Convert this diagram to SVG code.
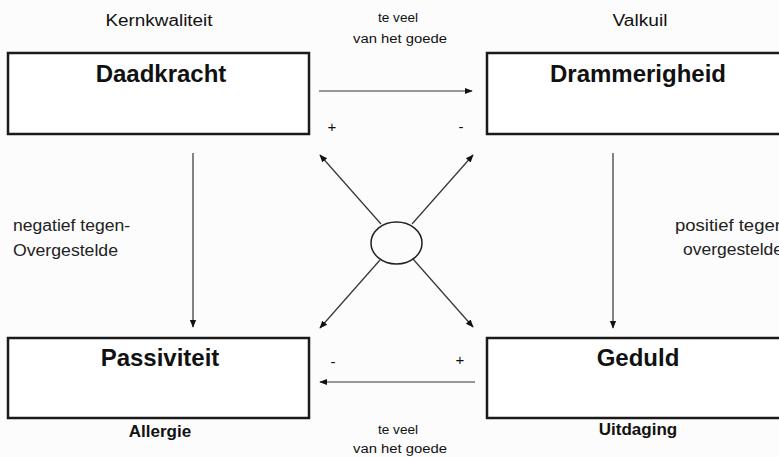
<svg xmlns="http://www.w3.org/2000/svg" width="779" height="457" viewBox="0 0 779 457">
<defs>
<style>
.box{fill:#ffffff;stroke:#1a1a1a;stroke-width:2.5}
.title{font-family:"Liberation Sans",Arial,sans-serif;font-weight:bold;font-size:24px;fill:#111;text-anchor:middle}
.sub{font-family:"Liberation Sans",Arial,sans-serif;font-weight:bold;font-size:17px;fill:#111;text-anchor:middle}
.hdr{font-family:"Liberation Sans",Arial,sans-serif;font-size:16px;fill:#111;text-anchor:middle}
.small{font-family:"Liberation Sans",Arial,sans-serif;font-size:12px;fill:#111;text-anchor:middle}
.side{font-family:"Liberation Sans",Arial,sans-serif;font-size:16px;fill:#222}
.sign{font-family:"Liberation Sans",Arial,sans-serif;font-size:15px;fill:#111;text-anchor:middle}
.conn{stroke:#333;stroke-width:1.2;fill:none}
</style>
<marker id="ah" viewBox="0 0 10 10" refX="9" refY="5" markerWidth="8" markerHeight="8" markerUnits="userSpaceOnUse" orient="auto">
<path d="M0,1 L10,5 L0,9 Z" fill="#111"/>
</marker>
</defs>
<rect x="0" y="0" width="779" height="457" fill="#fcfcfc"/>

<g id="labels">
<text class="hdr" x="159" y="26" textLength="107" lengthAdjust="spacingAndGlyphs">Kernkwaliteit</text>
<text class="hdr" x="640" y="26" textLength="55" lengthAdjust="spacingAndGlyphs">Valkuil</text>
<text class="small" x="398" y="22" textLength="40" lengthAdjust="spacingAndGlyphs">te veel</text>
<text class="small" x="400" y="43" textLength="94" lengthAdjust="spacingAndGlyphs">van het goede</text>
<text class="small" x="398" y="434" textLength="40" lengthAdjust="spacingAndGlyphs">te veel</text>
<text class="small" x="400" y="453" textLength="94" lengthAdjust="spacingAndGlyphs">van het goede</text>
<text class="side" x="13" y="231" textLength="117" lengthAdjust="spacingAndGlyphs">negatief tegen-</text>
<text class="side" x="13" y="256" textLength="105" lengthAdjust="spacingAndGlyphs">Overgestelde</text>
<text class="side" x="675" y="231" textLength="110" lengthAdjust="spacingAndGlyphs">positief tegen</text>
<text class="side" x="683" y="255" textLength="100" lengthAdjust="spacingAndGlyphs">overgestelde</text>
<text class="sign" x="332" y="132">+</text>
<text class="sign" x="461" y="132">-</text>
<text class="sign" x="333" y="367">-</text>
<text class="sign" x="460" y="365">+</text>
</g>

<g id="node-daadkracht">
<rect class="box" x="8" y="53" width="301" height="81"/>
<text class="title" x="161" y="82">Daadkracht</text>
</g>
<g id="node-drammerigheid">
<rect class="box" x="487" y="53" width="310" height="81"/>
<text class="title" x="638" y="82">Drammerigheid</text>
</g>
<g id="node-passiviteit">
<rect class="box" x="8" y="338" width="301" height="80"/>
<text class="title" x="160" y="366">Passiviteit</text>
<text class="sub" x="160" y="437">Allergie</text>
</g>
<g id="node-geduld">
<rect class="box" x="487" y="338" width="310" height="80"/>
<text class="title" x="638" y="366">Geduld</text>
<text class="sub" x="638" y="435">Uitdaging</text>
</g>
<g id="node-center">
<ellipse cx="396.5" cy="243" rx="25.5" ry="21" fill="none" stroke="#222" stroke-width="1.5"/>
</g>

<g id="connectors">
<line class="conn" x1="319" y1="91" x2="472" y2="91" marker-end="url(#ah)"/>
<line class="conn" x1="475" y1="382" x2="320" y2="382" marker-end="url(#ah)"/>
<line class="conn" x1="193" y1="153" x2="193" y2="327" marker-end="url(#ah)"/>
<line class="conn" x1="613" y1="153" x2="613" y2="328" marker-end="url(#ah)"/>
<line class="conn" x1="381" y1="224" x2="320" y2="155" marker-end="url(#ah)"/>
<line class="conn" x1="412" y1="224" x2="473" y2="155" marker-end="url(#ah)"/>
<line class="conn" x1="380" y1="260" x2="320" y2="328" marker-end="url(#ah)"/>
<line class="conn" x1="413" y1="259" x2="473" y2="327" marker-end="url(#ah)"/>
</g>
</svg>
